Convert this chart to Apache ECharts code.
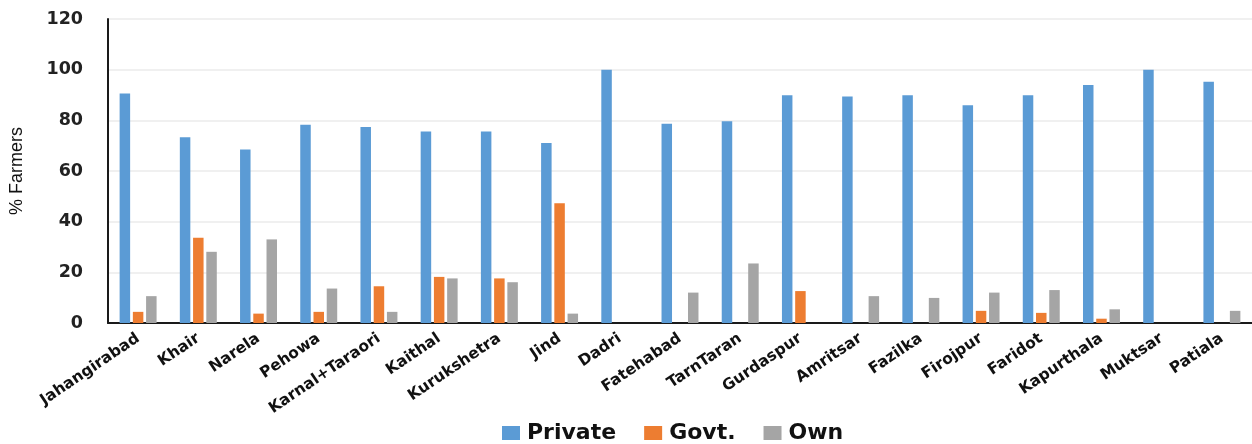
<!DOCTYPE html>
<html>
<head>
<meta charset="utf-8">
<script src="https://cdn.jsdelivr.net/npm/echarts@6/dist/echarts.min.js"></script>
<style>
  html, body { margin: 0; padding: 0; background: #ffffff; }
  #chart { width: 1252px; height: 444px; }
</style>
</head>
<body>
<div id="chart"></div>
<script>
// Source of irrigation / service by district (% of farmers)
const categories = [
  'Jahangirabad', 'Khair', 'Narela', 'Pehowa', 'Karnal+Taraori', 'Kaithal',
  'Kurukshetra', 'Jind', 'Dadri', 'Fatehabad', 'TarnTaran', 'Gurdaspur',
  'Amritsar', 'Fazilka', 'Firojpur', 'Faridot', 'Kapurthala', 'Muktsar', 'Patiala'
];
const privateValues = [90.6, 73.3, 68.5, 78.3, 77.4, 75.6, 75.6, 71.1, 100, 78.7, 79.6, 89.9, 89.4, 89.9, 86.0, 89.9, 93.9, 100, 95.2];
const govtValues    = [4.4, 33.7, 3.7, 4.4, 14.5, 18.2, 17.6, 47.3, 0, 0, 0, 12.6, 0, 0, 4.8, 4.0, 1.7, 0, 0];
const ownValues     = [10.6, 28.1, 33.0, 13.6, 4.4, 17.6, 16.1, 3.7, 0, 12.0, 23.5, 0, 10.6, 9.9, 12.0, 13.0, 5.4, 0, 4.8];
const yTicks = [0, 20, 40, 60, 80, 100, 120];

const colors = { private: '#5B9BD5', govt: '#ED7D31', own: '#A5A5A5' };

const chart = echarts.init(document.getElementById('chart'), null, { renderer: 'canvas' });

const barBase = { type: 'bar', barWidth: 10.5, barGap: '26%', animation: false };

chart.setOption({
  backgroundColor: '#ffffff',
  animation: false,
  grid: { left: 108, right: 0, top: 19, bottom: 121 },
  legend: {
    left: 497,
    top: 417,
    itemWidth: 18,
    itemHeight: 14,
    itemGap: 28,
    icon: 'rect',
    textStyle: { fontFamily: 'DejaVu Sans', fontWeight: 'bold', fontSize: 22, color: '#111111', padding: [0, 0, 0, 2] },
    data: ['Private', 'Govt.', 'Own']
  },
  xAxis: {
    type: 'category',
    data: categories,
    axisLine: { show: true, lineStyle: { color: '#1a1a1a', width: 2 } },
    axisTick: { show: false },
    axisLabel: {
      rotate: 34,
      margin: 14,
      interval: 0,
      fontFamily: 'DejaVu Sans',
      fontWeight: 'bold',
      fontSize: 15.5,
      color: '#111111'
    }
  },
  yAxis: {
    type: 'value',
    min: yTicks[0],
    max: yTicks[yTicks.length - 1],
    interval: yTicks[1] - yTicks[0],
    name: '% Farmers',
    nameLocation: 'middle',
    nameGap: 82,
    nameTextStyle: { fontFamily: 'Liberation Sans', fontSize: 18, color: '#111111' },
    axisLine: { show: true, lineStyle: { color: '#1a1a1a', width: 2 } },
    axisTick: { show: false },
    axisLabel: {
      margin: 25,
      fontFamily: 'DejaVu Sans',
      fontWeight: 'bold',
      fontSize: 17.5,
      color: '#222222'
    },
    splitLine: { lineStyle: { color: '#ebebeb', width: 1.5 } }
  },
  series: [
    Object.assign({}, barBase, { name: 'Private', data: privateValues, itemStyle: { color: colors.private } }),
    Object.assign({}, barBase, { name: 'Govt.', data: govtValues, itemStyle: { color: colors.govt } }),
    Object.assign({}, barBase, { name: 'Own', data: ownValues, itemStyle: { color: colors.own } })
  ]
});
</script>
</body>
</html>
